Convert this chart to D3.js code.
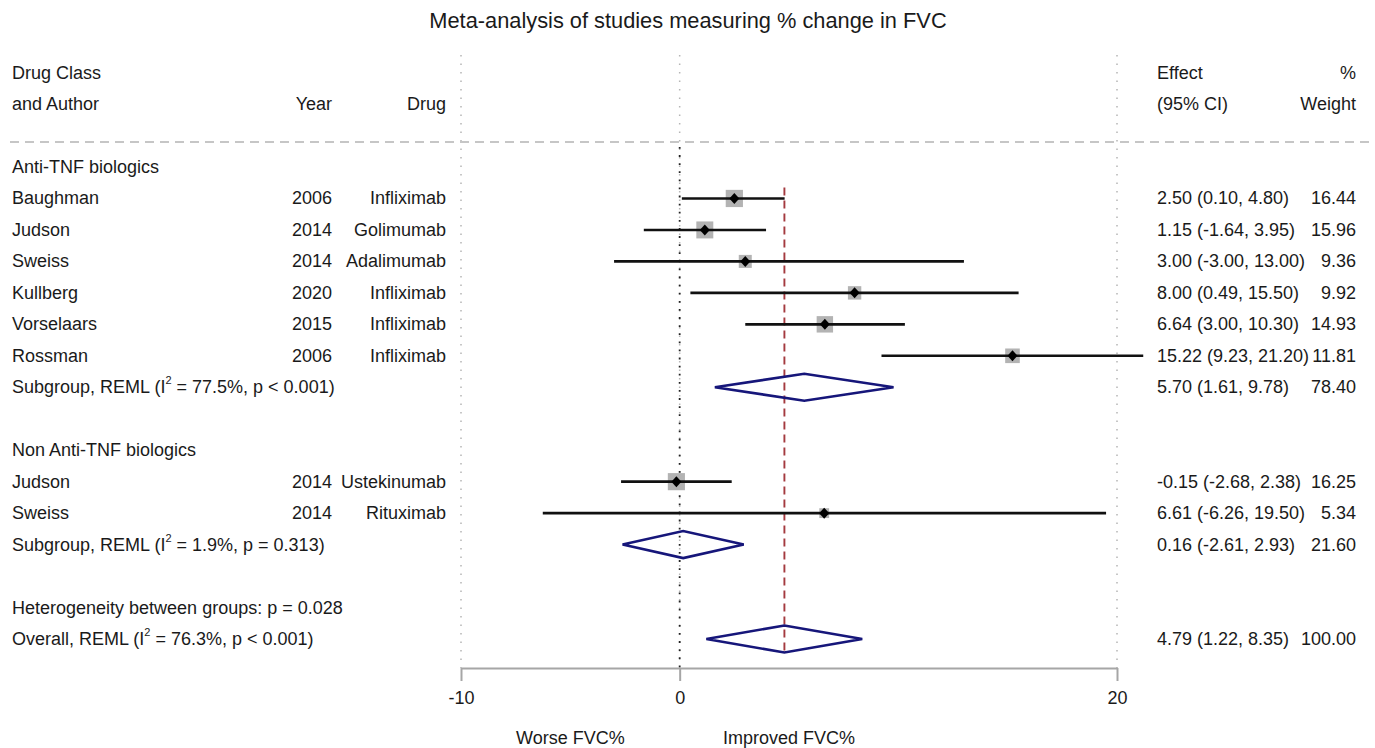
<!DOCTYPE html>
<html>
<head>
<meta charset="utf-8">
<script src="https://cdn.jsdelivr.net/npm/d3@7"></script>
<style>
  html, body { margin: 0; padding: 0; background: #fff; }
  svg { display: block; font-family: "Liberation Sans", Arial, Helvetica, sans-serif; }
</style>
</head>
<body>
<svg id="chart" width="1375" height="748"></svg>
<script>
// ---- Data ----
const studyAuthors = ["Baughman", "Judson", "Sweiss", "Kullberg", "Vorselaars", "Rossman", "Judson", "Sweiss"];
const studyYears = [2006, 2014, 2014, 2020, 2015, 2006, 2014, 2014];
const studyDrugs = ["Infliximab", "Golimumab", "Adalimumab", "Infliximab", "Infliximab", "Infliximab", "Ustekinumab", "Rituximab"];
const studyEffects = [2.50, 1.15, 3.00, 8.00, 6.64, 15.22, -0.15, 6.61];
const studyLower = [0.10, -1.64, -3.00, 0.49, 3.00, 9.23, -2.68, -6.26];
const studyUpper = [4.80, 3.95, 13.00, 15.50, 10.30, 21.20, 2.38, 19.50];
const studyWeights = [16.44, 15.96, 9.36, 9.92, 14.93, 11.81, 16.25, 5.34];
const studyRows = [1, 2, 3, 4, 5, 6, 10, 11];

const groupLabels = ["Anti-TNF biologics", "Non Anti-TNF biologics"];
const groupRows = [0, 9];

const summaryPrefix = ["Subgroup, REML (I", "Subgroup, REML (I", "Overall, REML (I"];
const summarySuffix = [" = 77.5%, p < 0.001)", " = 1.9%, p = 0.313)", " = 76.3%, p < 0.001)"];
const summaryEffects = [5.70, 0.16, 4.79];
const summaryLower = [1.61, -2.61, 1.22];
const summaryUpper = [9.78, 2.93, 8.35];
const summaryWeights = [78.40, 21.60, 100.00];
const summaryRows = [7, 12, 15];

const heterogeneityText = "Heterogeneity between groups: p = 0.028";
const heterogeneityRow = 14;

const axisTicks = [-10, 0, 20];
const axisDomain = [-10, 20];
const overallEffect = 4.79;
const directionLabels = ["Worse FVC%", "Improved FVC%"];
const directionPositions = [-5, 5];

const titleText = "Meta-analysis of studies measuring % change in FVC";

// ---- Layout ----
const svg = d3.select("#chart");
const x = d3.scaleLinear().domain(axisDomain).range([461, 1117]);
const y = d3.scaleLinear().domain([0, 15]).range([167, 639]);
const locale = d3.formatLocale({ decimal: ".", thousands: ",", grouping: [3], currency: ["", ""], minus: "-" });
const fmt = locale.format(".2f");
const fmtInt = locale.format("d");
const fs = 18;
const textColor = "#1a1a1a";

const colAuthor = 12, colYear = 332, colDrug = 446, colEffect = 1157, colWeight = 1356;

// Title
svg.append("text")
  .attr("x", 688).attr("y", 20)
  .attr("text-anchor", "middle").attr("dominant-baseline", "central")
  .attr("font-size", 21.8).attr("fill", textColor)
  .text(titleText);

// Reference gridlines (dotted)
const gridTop = 55, gridBottom = 668;
svg.append("g").selectAll("line").data(axisTicks).join("line")
  .attr("x1", d => x(d)).attr("x2", d => x(d))
  .attr("y1", gridTop).attr("y2", gridBottom)
  .attr("stroke", "#b5b5b5").attr("stroke-width", 1.5)
  .attr("stroke-dasharray", "1.5,7");

svg.append("line")
  .attr("x1", x(0)).attr("x2", x(0))
  .attr("y1", 147).attr("y2", gridBottom)
  .attr("stroke", "#222").attr("stroke-width", 1.8)
  .attr("stroke-dasharray", "1.8,6.3");

// Header dashed separator
svg.append("line")
  .attr("x1", 10).attr("x2", 1375)
  .attr("y1", 142).attr("y2", 142)
  .attr("stroke", "#c6c6c6").attr("stroke-width", 2)
  .attr("stroke-dasharray", "9,6");

// Overall effect red dashed line
svg.append("line")
  .attr("x1", x(overallEffect)).attr("x2", x(overallEffect))
  .attr("y1", y(1) - 11).attr("y2", y(15) + 15)
  .attr("stroke", "#a43a3f").attr("stroke-width", 1.9)
  .attr("stroke-dasharray", "8,5");

// Header text
const hdr = svg.append("g").attr("font-size", fs).attr("fill", textColor).attr("dominant-baseline", "central");
hdr.append("text").attr("x", colAuthor).attr("y", y(-3)).text("Drug Class");
hdr.append("text").attr("x", colAuthor).attr("y", y(-2)).text("and Author");
hdr.append("text").attr("x", colYear).attr("y", y(-2)).attr("text-anchor", "end").text("Year");
hdr.append("text").attr("x", colDrug).attr("y", y(-2)).attr("text-anchor", "end").text("Drug");
hdr.append("text").attr("x", colEffect).attr("y", y(-3)).text("Effect");
hdr.append("text").attr("x", colEffect).attr("y", y(-2)).text("(95% CI)");
hdr.append("text").attr("x", colWeight).attr("y", y(-3)).attr("text-anchor", "end").text("%");
hdr.append("text").attr("x", colWeight).attr("y", y(-2)).attr("text-anchor", "end").text("Weight");

// Text layer
const txt = svg.append("g").attr("font-size", fs).attr("fill", textColor).attr("dominant-baseline", "central");

txt.selectAll("text.group").data(groupLabels).join("text")
  .attr("class", "group").attr("x", colAuthor).attr("y", (d, i) => y(groupRows[i])).text(d => d);

studyAuthors.forEach((a, i) => {
  const yy = y(studyRows[i]);
  txt.append("text").attr("x", colAuthor).attr("y", yy).text(a);
  txt.append("text").attr("x", colYear).attr("y", yy).attr("text-anchor", "end").text(studyYears[i]);
  txt.append("text").attr("x", colDrug).attr("y", yy).attr("text-anchor", "end").text(studyDrugs[i]);
  txt.append("text").attr("x", colEffect).attr("y", yy)
    .text(`${fmt(studyEffects[i])} (${fmt(studyLower[i])}, ${fmt(studyUpper[i])})`);
  txt.append("text").attr("x", colWeight).attr("y", yy).attr("text-anchor", "end").text(fmt(studyWeights[i]));
});

summaryPrefix.forEach((p, i) => {
  const yy = y(summaryRows[i]);
  const t = txt.append("text").attr("x", colAuthor).attr("y", yy);
  t.append("tspan").text(p);
  t.append("tspan").attr("font-size", 11).attr("dy", -7).text("2");
  t.append("tspan").attr("dy", 7).text(summarySuffix[i]);
  txt.append("text").attr("x", colEffect).attr("y", yy)
    .text(`${fmt(summaryEffects[i])} (${fmt(summaryLower[i])}, ${fmt(summaryUpper[i])})`);
  txt.append("text").attr("x", colWeight).attr("y", yy).attr("text-anchor", "end").text(fmt(summaryWeights[i]));
});

txt.append("text").attr("x", colAuthor).attr("y", y(heterogeneityRow)).text(heterogeneityText);

// Study marks
const marks = svg.append("g");
const boxK = 4.25;
marks.selectAll("rect.box").data(studyEffects).join("rect")
  .attr("class", "box")
  .attr("x", (d, i) => x(d) - boxK * Math.sqrt(studyWeights[i]) / 2)
  .attr("y", (d, i) => y(studyRows[i]) - boxK * Math.sqrt(studyWeights[i]) / 2)
  .attr("width", (d, i) => boxK * Math.sqrt(studyWeights[i]))
  .attr("height", (d, i) => boxK * Math.sqrt(studyWeights[i]))
  .attr("fill", "#b3b3b3");

marks.selectAll("line.ci").data(studyEffects).join("line")
  .attr("class", "ci")
  .attr("x1", (d, i) => x(studyLower[i])).attr("x2", (d, i) => x(studyUpper[i]))
  .attr("y1", (d, i) => y(studyRows[i])).attr("y2", (d, i) => y(studyRows[i]))
  .attr("stroke", "#111").attr("stroke-width", 2.6);

const dm = 5;
marks.selectAll("path.pt").data(studyEffects).join("path")
  .attr("class", "pt")
  .attr("d", (d, i) => {
    const cx = x(d), cy = y(studyRows[i]);
    return `M${cx - dm},${cy}L${cx},${cy - dm - 0.5}L${cx + dm},${cy}L${cx},${cy + dm + 0.5}Z`;
  })
  .attr("fill", "#000");

// Summary diamonds
const dh = 13.5;
marks.selectAll("path.sum").data(summaryEffects).join("path")
  .attr("class", "sum")
  .attr("d", (d, i) => {
    const cy = y(summaryRows[i]);
    return `M${x(summaryLower[i])},${cy}L${x(d)},${cy - dh}L${x(summaryUpper[i])},${cy}L${x(d)},${cy + dh}Z`;
  })
  .attr("fill", "none").attr("stroke", "#16167a").attr("stroke-width", 2.6)
  .attr("stroke-linejoin", "miter");

// Axis
const axisG = svg.append("g").attr("transform", "translate(0,668)")
  .call(d3.axisBottom(x).tickValues(axisTicks).tickSize(13).tickSizeOuter(0).tickPadding(10).tickFormat(fmtInt));
axisG.select(".domain").attr("stroke", "#a6a6a6").attr("stroke-width", 2);
axisG.selectAll(".tick line").attr("stroke", "#a6a6a6").attr("stroke-width", 2);
axisG.selectAll(".tick text").attr("font-size", fs).attr("fill", textColor)
  .attr("font-family", "Liberation Sans, Arial, sans-serif");

// Direction labels
svg.append("g").selectAll("text").data(directionLabels).join("text")
  .attr("x", (d, i) => x(directionPositions[i])).attr("y", 738)
  .attr("text-anchor", "middle").attr("dominant-baseline", "central")
  .attr("font-size", fs).attr("fill", textColor)
  .text(d => d);
</script>
</body>
</html>
